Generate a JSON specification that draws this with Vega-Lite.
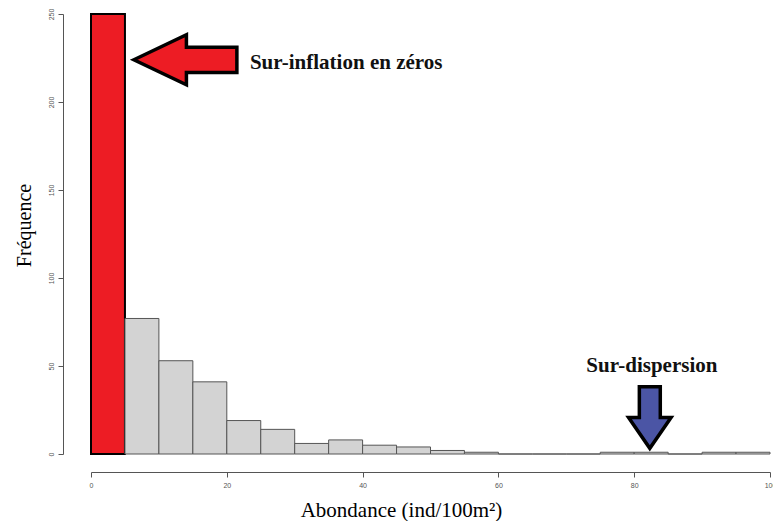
{
  "$schema": "https://vega.github.io/schema/vega-lite/v6.json",
  "width": 679,
  "height": 440,
  "autosize": {"type": "none"},
  "padding": {"left": 91, "top": 14, "right": 3, "bottom": 67},
  "background": "white",
  "config": {"view": {"stroke": null}, "axis": {"grid": false}},
  "layer": [
    {
      "data": {"values": [
        {"start": 0, "end": 5, "count": 250},
        {"start": 5, "end": 10, "count": 77},
        {"start": 10, "end": 15, "count": 53},
        {"start": 15, "end": 20, "count": 41},
        {"start": 20, "end": 25, "count": 19},
        {"start": 25, "end": 30, "count": 14},
        {"start": 30, "end": 35, "count": 6},
        {"start": 35, "end": 40, "count": 8},
        {"start": 40, "end": 45, "count": 5},
        {"start": 45, "end": 50, "count": 4},
        {"start": 50, "end": 55, "count": 2},
        {"start": 55, "end": 60, "count": 1},
        {"start": 60, "end": 65, "count": 0},
        {"start": 65, "end": 70, "count": 0},
        {"start": 70, "end": 75, "count": 0},
        {"start": 75, "end": 80, "count": 1},
        {"start": 80, "end": 85, "count": 1},
        {"start": 85, "end": 90, "count": 0},
        {"start": 90, "end": 95, "count": 1},
        {"start": 95, "end": 100, "count": 1}
      ]},
      "mark": {"type": "bar", "orient": "vertical", "clip": false},
      "encoding": {
        "x": {
          "field": "start", "type": "quantitative",
          "scale": {"domain": [0, 100], "nice": false, "zero": false, "padding": 0},
          "axis": {
            "title": "Abondance (ind/100m²)",
            "values": [0, 20, 40, 60, 80, 100],
            "offset": 18,
            "domainColor": "#555555", "tickColor": "#555555", "tickSize": 5,
            "labelFont": "Liberation Sans", "labelFontSize": 7, "labelColor": "#555555",
            "labelPadding": 4, "labelFlush": false, "labelOverlap": false,
            "titleFont": "Liberation Serif", "titleFontSize": 21, "titleFontWeight": "normal",
            "titleColor": "#000000", "titleX": 310, "titleY": 44, "titleAlign": "center",
            "titleBaseline": "alphabetic", "titleAnchor": null
          }
        },
        "x2": {"field": "end"},
        "y": {
          "field": "count", "type": "quantitative",
          "scale": {"domain": [0, 250], "nice": false, "padding": 0},
          "axis": {
            "title": "Fréquence",
            "values": [0, 50, 100, 150, 200, 250],
            "offset": 28,
            "domainColor": "#555555", "tickColor": "#555555", "tickSize": 5,
            "labelFont": "Liberation Sans", "labelFontSize": 7, "labelColor": "#555555",
            "labelAngle": -90, "labelAlign": "center", "labelBaseline": "bottom",
            "labelPadding": 4, "labelFlush": false, "labelOverlap": false,
            "titleFont": "Liberation Serif", "titleFontSize": 20, "titleFontWeight": "normal",
            "titleColor": "#000000", "titleAngle": -90, "titleX": -33, "titleY": 211,
            "titleAlign": "center", "titleBaseline": "alphabetic", "titleAnchor": null
          }
        },
        "y2": {"datum": 0},
        "fill": {"condition": {"test": "datum.start == 0", "value": "#ED1C24"}, "value": "#D3D3D3"},
        "stroke": {"condition": {"test": "datum.start == 0", "value": "#000000"}, "value": "#555555"},
        "strokeWidth": {"condition": {"test": "datum.start == 0", "value": 2}, "value": 1}
      }
    },
    {
      "data": {"values": [{"start": 13.9, "count": 224}]},
      "mark": {
        "type": "point", "filled": true, "opacity": 1, "fill": "#ED1C24",
        "stroke": "#000000", "strokeWidth": 3.5, "strokeJoin": "miter", "size": 10609,
        "shape": "M-1,0 L0.02,-0.485 L0.02,-0.245 L1,-0.245 L1,0.245 L0.02,0.245 L0.02,0.485 Z"
      },
      "encoding": {
        "x": {"field": "start", "type": "quantitative"},
        "y": {"field": "count", "type": "quantitative"}
      }
    },
    {
      "data": {"values": [{"start": 82.3, "count": 20.7}]},
      "mark": {
        "type": "point", "filled": true, "opacity": 1, "fill": "#4B55A5",
        "stroke": "#000000", "strokeWidth": 3.5, "strokeJoin": "miter", "size": 3794,
        "shape": "M-0.34,-1 L0.34,-1 L0.34,0 L0.69,0 L0,1 L-0.69,0 L-0.34,0 Z"
      },
      "encoding": {
        "x": {"field": "start", "type": "quantitative"},
        "y": {"field": "count", "type": "quantitative"}
      }
    },
    {
      "data": {"values": [
        {"start": 23.4, "count": 222, "label": "Sur-inflation en zéros"}
      ]},
      "mark": {"type": "text", "font": "Liberation Serif", "fontSize": 21, "fontWeight": "bold", "color": "#111111", "align": "left", "baseline": "middle"},
      "encoding": {
        "x": {"field": "start", "type": "quantitative"},
        "y": {"field": "count", "type": "quantitative"},
        "text": {"field": "label"}
      }
    },
    {
      "data": {"values": [
        {"start": 82.6, "count": 50, "label": "Sur-dispersion"}
      ]},
      "mark": {"type": "text", "font": "Liberation Serif", "fontSize": 21, "fontWeight": "bold", "color": "#111111", "align": "center", "baseline": "middle"},
      "encoding": {
        "x": {"field": "start", "type": "quantitative"},
        "y": {"field": "count", "type": "quantitative"},
        "text": {"field": "label"}
      }
    }
  ]
}
